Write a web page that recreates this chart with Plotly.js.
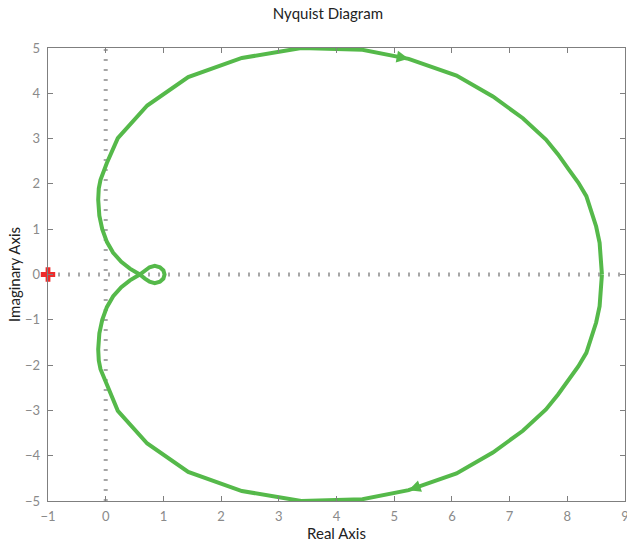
<!DOCTYPE html>
<html>
<head>
<meta charset="utf-8">
<script src="https://cdn.plot.ly/plotly-3.0.1.min.js"></script>
<style>
  html, body { margin: 0; padding: 0; background: #ffffff; }
  #plot { width: 627px; height: 547px; }
</style>
</head>
<body>
<div id="plot"></div>
<script>
// Frequency response samples, positive frequencies (w = 0 -> inf)
const posRe = [8.60, 8.59, 8.56, 8.50, 8.42, 8.33, 8.19, 8.03, 7.84, 7.63, 7.23, 6.71, 6.08, 5.25, 4.45, 3.39, 2.36, 1.43, 0.72, 0.21, 0.02, -0.09, -0.12, -0.13, -0.11, -0.06, 0.02, 0.13, 0.27, 0.42, 0.59, 0.68, 0.76, 0.85, 0.94, 1.00, 1.02];
const posIm = [0.00, -0.30, -0.70, -1.06, -1.40, -1.73, -2.03, -2.31, -2.65, -2.98, -3.45, -3.93, -4.39, -4.76, -4.96, -5.00, -4.78, -4.36, -3.73, -3.01, -2.46, -2.09, -1.90, -1.65, -1.30, -1.00, -0.72, -0.48, -0.28, -0.13, 0.00, 0.09, 0.16, 0.19, 0.16, 0.09, 0.00];

// Negative frequencies (w = -inf -> 0)
const negRe = [1.02, 1.00, 0.94, 0.85, 0.76, 0.68, 0.59, 0.42, 0.27, 0.13, 0.02, -0.06, -0.11, -0.13, -0.12, -0.09, 0.02, 0.21, 0.72, 1.43, 2.36, 3.39, 4.45, 5.25, 6.08, 6.71, 7.23, 7.63, 7.84, 8.03, 8.19, 8.33, 8.42, 8.50, 8.56, 8.59, 8.60];
const negIm = [0.00, -0.09, -0.16, -0.19, -0.16, -0.09, 0.00, 0.13, 0.28, 0.48, 0.72, 1.00, 1.30, 1.65, 1.90, 2.09, 2.46, 3.01, 3.73, 4.36, 4.78, 5.00, 4.96, 4.76, 4.39, 3.93, 3.45, 2.98, 2.65, 2.31, 2.03, 1.73, 1.40, 1.06, 0.70, 0.30, 0.00];

// Critical point -1 + 0j
const critRe = [-1];
const critIm = [0];

// Sample index where a direction arrow is drawn on each branch
const posArrowIdx = 13;
const negArrowIdx = 23;

const curveColor = '#55b94a';
const axisGray = '#7f7f7f';
const textFont = 'Lato, "Open Sans", sans-serif';

const curveRe = posRe.concat(negRe.slice(1));
const curveIm = posIm.concat(negIm.slice(1));

const traces = [
  {
    x: curveRe, y: curveIm,
    type: 'scatter', mode: 'lines',
    line: { color: curveColor, width: 4 },
    hoverinfo: 'skip', showlegend: false
  },
  {
    x: critRe, y: critIm,
    type: 'scatter', mode: 'markers',
    marker: { symbol: 'cross', size: 12, color: '#ee2b2b', line: { width: 0 } },
    cliponaxis: false, hoverinfo: 'skip', showlegend: false
  }
];

function arrowAt(re, im, i) {
  return {
    x: re[i], y: im[i], xref: 'x', yref: 'y',
    ax: re[i - 1], ay: im[i - 1], axref: 'x', ayref: 'y',
    text: '', showarrow: true,
    arrowhead: 2, arrowsize: 1.2, arrowwidth: 2, arrowcolor: curveColor
  };
}

const layout = {
  width: 627, height: 547,
  margin: { l: 48, r: 2, t: 48, b: 46 },
  paper_bgcolor: '#ffffff', plot_bgcolor: '#ffffff',
  font: { family: textFont, size: 13, color: '#222222' },
  title: {
    text: 'Nyquist Diagram',
    font: { family: textFont, size: 15, color: '#222222' },
    x: 0.523, xref: 'container', xanchor: 'center',
    y: 0.974, yref: 'container', yanchor: 'middle'
  },
  xaxis: {
    range: [-1, 9], dtick: 1, tick0: 0,
    ticks: 'inside', ticklen: 5, tickwidth: 1, tickcolor: axisGray,
    showline: true, linecolor: axisGray, linewidth: 1.3, mirror: 'ticks',
    showgrid: false, zeroline: false,
    tickfont: { family: textFont, size: 13, color: '#8a8a8a' },
    ticklabelstandoff: 3, ticklabeloverflow: 'allow',
    title: { text: 'Real Axis', standoff: 3, font: { family: textFont, size: 15, color: '#222222' } }
  },
  yaxis: {
    range: [-5, 5], dtick: 1, tick0: 0,
    ticks: 'inside', ticklen: 5, tickwidth: 1, tickcolor: axisGray,
    showline: true, linecolor: axisGray, linewidth: 1.3, mirror: 'ticks',
    showgrid: false, zeroline: false,
    tickfont: { family: textFont, size: 13, color: '#8a8a8a' },
    ticklabelstandoff: 4, ticklabeloverflow: 'allow',
    title: { text: 'Imaginary Axis', standoff: 0, font: { family: textFont, size: 15, color: '#222222' } }
  },
  shapes: [
    { type: 'line', xref: 'x', yref: 'y', x0: -1, x1: 9, y0: 0, y1: 0, layer: 'below',
      line: { color: '#a6a6a6', width: 4, dash: '2px,8px' } },
    { type: 'line', xref: 'x', yref: 'y', x0: 0, x1: 0, y0: -5, y1: 5, layer: 'below',
      line: { color: '#a6a6a6', width: 4, dash: '2px,8px' } }
  ],
  annotations: [arrowAt(posRe, posIm, posArrowIdx), arrowAt(negRe, negIm, negArrowIdx)]
};

Plotly.newPlot('plot', traces, layout, { staticPlot: true, displayModeBar: false });
</script>
</body>
</html>
